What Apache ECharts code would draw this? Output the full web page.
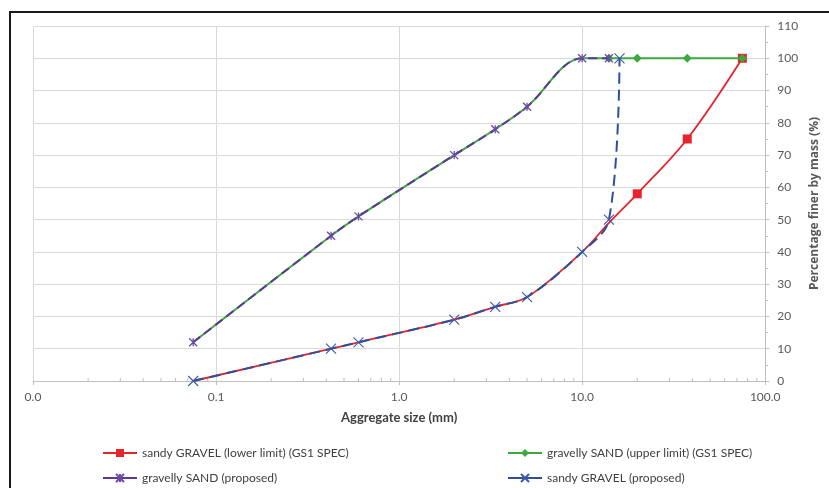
<!DOCTYPE html>
<html>
<head>
<meta charset="utf-8">
<script src="https://cdn.jsdelivr.net/npm/echarts@6/dist/echarts.min.js"></script>
<style>
html,body{margin:0;padding:0;background:#fff;}
#chart{width:829px;height:488px;}
</style>
</head>
<body>
<div id="chart"></div>
<script>
// ---- data ----
const seriesNames = [
  'sandy GRAVEL (lower limit) (GS1 SPEC)',
  'gravelly SAND (upper limit) (GS1 SPEC)',
  'gravelly SAND (proposed)',
  'sandy GRAVEL (proposed)'
];
const lowerSizes = [0.075, 0.425, 0.6, 2, 3.35, 5, 10, 14, 20, 37.5, 75];
const lowerValues = [0, 10, 12, 19, 23, 26, 40, 49, 58, 75, 100];
const upperSizes = [0.075, 0.425, 0.6, 2, 3.35, 5, 10, 14, 20, 37.5, 75];
const upperValues = [12, 45, 51, 70, 78, 85, 100, 100, 100, 100, 100];
const sandSizes = [0.075, 0.425, 0.6, 2, 3.35, 5, 10, 14];
const sandValues = [12, 45, 51, 70, 78, 85, 100, 100];
const gravelSizes = [0.075, 0.425, 0.6, 2, 3.35, 5, 10, 14, 16];
const gravelValues = [0, 10, 12, 19, 23, 26, 40, 50, 100];
const xTickLabels = ['0.0', '0.1', '1.0', '10.0', '100.0'];
const yTicks = [0, 10, 20, 30, 40, 50, 60, 70, 80, 90, 100, 110];

// minor tick values of the log axis (2..9 within each decade)
const minorTickValues = [];
[0.01, 0.1, 1, 10].forEach(d => { for (let k = 2; k <= 9; k++) minorTickValues.push(+(d * k).toPrecision(3)); });

function pairs(xs, ys, firstMarker) {
  return xs.map((x, i) => {
    const item = { value: [x, ys[i]] };
    if (firstMarker !== undefined && i < firstMarker) item.symbol = 'none';
    return item;
  });
}

const font = 'Lato, "Open Sans", sans-serif';
const starX = 'path://M0,0L10,10M10,0L0,10M5,0L5,10';
const crossX = 'path://M0,0L10,10M10,0L0,10';

const legendCommon = {
  orient: 'vertical', top: 447, height: 40, padding: 0,
  itemWidth: 34, itemHeight: 10, itemGap: 13,
  lineStyle: { type: 'solid' },
  textStyle: { fontFamily: font, fontSize: 12, color: '#404040' }
};

const chart = echarts.init(document.getElementById('chart'), null, { renderer: 'canvas' });
chart.setOption({
  animation: false,
  backgroundColor: '#ffffff',
  textStyle: { fontFamily: font },
  grid: { left: 33, right: 57, top: 26, bottom: 107, containLabel: false },
  graphic: [{
    type: 'rect', shape: { x: 10, y: 12, width: 840, height: 500 },
    style: { fill: 'none', stroke: '#1a1a1a', lineWidth: 2 }, silent: true, z: 100
  }],
  legend: [
    Object.assign({ data: [seriesNames[0], seriesNames[2]], left: 102 }, legendCommon),
    Object.assign({ data: [seriesNames[1], seriesNames[3]], left: 507 }, legendCommon)
  ],
  xAxis: {
    type: 'log', logBase: 10, min: 0.01, max: 100,
    name: 'Aggregate size (mm)', nameLocation: 'middle', nameGap: 30,
    nameTextStyle: { fontFamily: font, fontSize: 13, fontWeight: 'bold', color: '#404040' },
    axisLine: { show: true, lineStyle: { color: '#bfbfbf', width: 1 } },
    axisTick: { show: true, length: 4, lineStyle: { color: '#bfbfbf' } },
    axisLabel: {
      fontFamily: font, fontSize: 12, color: '#595959', margin: 10,
      formatter: v => { const i = Math.round(Math.log10(v)) + 2; return xTickLabels[i] !== undefined ? xTickLabels[i] : ''; }
    },
    splitLine: { show: true, lineStyle: { color: '#d9d9d9', width: 1 } }
  },
  yAxis: {
    type: 'value', position: 'right', min: 0, max: 110, interval: 10,
    name: 'Percentage finer by mass (%)', nameLocation: 'middle', nameGap: 43, nameRotate: 90,
    nameTextStyle: { fontFamily: '"Open Sans", sans-serif', fontSize: 12, fontWeight: 'bold', color: '#595959' },
    axisLine: { show: true, lineStyle: { color: '#bfbfbf', width: 1 } },
    axisTick: { show: true, length: 4, lineStyle: { color: '#bfbfbf' } },
    minorTick: { show: true, splitNumber: 2, length: 3, lineStyle: { color: '#bfbfbf' } },
    axisLabel: {
      fontFamily: font, fontSize: 12, color: '#595959', margin: 12,
      formatter: v => yTicks.indexOf(v) >= 0 ? String(v) : ''
    },
    splitLine: { show: true, lineStyle: { color: '#d9d9d9', width: 1 } }
  },
  series: [
    {
      name: seriesNames[0], type: 'line', smooth: 0.35,
      data: pairs(lowerSizes, lowerValues, 8),
      symbol: 'rect', symbolSize: 9,
      lineStyle: { color: '#e8232b', width: 1.8 },
      itemStyle: { color: '#e8232b' }, z: 2
    },
    {
      name: seriesNames[1], type: 'line', smooth: 0.35,
      data: pairs(upperSizes, upperValues, 7),
      symbol: 'diamond', symbolSize: 9,
      lineStyle: { color: '#3aaa3f', width: 2 },
      itemStyle: { color: '#3aaa3f' }, z: 3
    },
    {
      name: seriesNames[2], type: 'line', smooth: 0.35,
      data: pairs(sandSizes, sandValues),
      symbol: starX, symbolSize: 8, symbolKeepAspect: true,
      lineStyle: { color: '#5b3a96', width: 2, type: [9, 5] },
      itemStyle: { color: 'rgba(0,0,0,0)', borderColor: '#6a4aa5', borderWidth: 1.3 }, z: 4
    },
    {
      name: seriesNames[3], type: 'line', smooth: 0.35,
      data: pairs(gravelSizes, gravelValues),
      symbol: crossX, symbolSize: 10, symbolKeepAspect: true,
      lineStyle: { color: '#2d4f9e', width: 2, type: [11, 6] },
      itemStyle: { color: 'rgba(0,0,0,0)', borderColor: '#3a5aa8', borderWidth: 1.1 }, z: 5
    },
    {
      name: 'minorTicks', type: 'custom', silent: true, z: 1,
      data: minorTickValues.map(v => [v, 0]),
      renderItem: (params, api) => {
        const p = api.coord([api.value(0), 0]);
        return { type: 'line', shape: { x1: p[0], y1: p[1], x2: p[0], y2: p[1] - 3 }, style: { stroke: '#bfbfbf', lineWidth: 1 } };
      }
    }
  ]
});
</script>
</body>
</html>
